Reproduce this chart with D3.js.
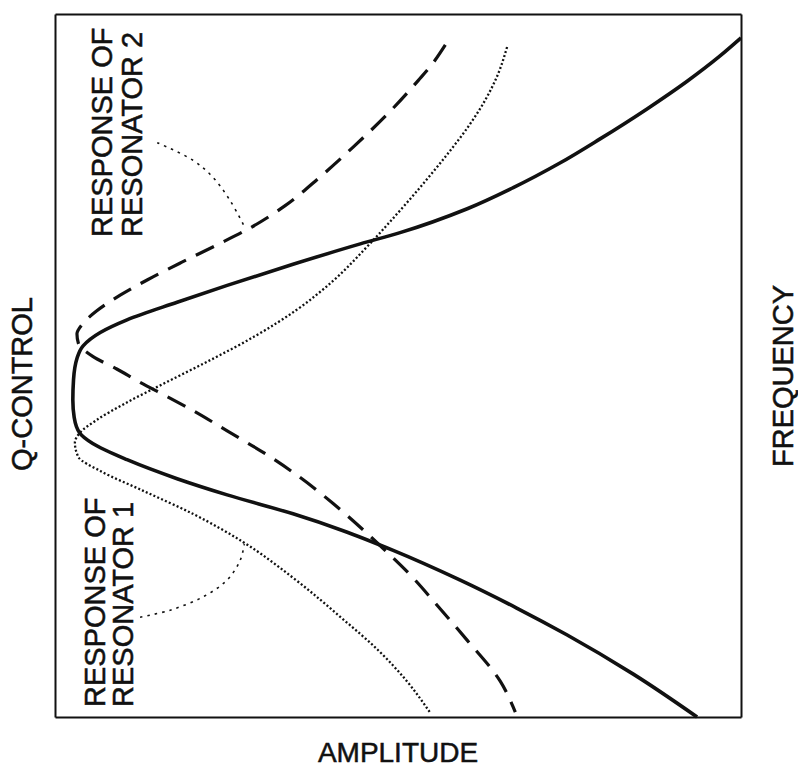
<!DOCTYPE html>
<html>
<head>
<meta charset="utf-8">
<script src="https://cdn.jsdelivr.net/npm/d3@7"></script>
<style>
  html, body { margin: 0; padding: 0; background: #fff; }
  text { font-family: "Liberation Sans", Arial, sans-serif; fill: #111; stroke: #111; stroke-width: 0.5; }
</style>
</head>
<body>
<div id="chart"></div>
<script>
// values: [amplitude, frequency], both in 0..100 units
const combined = [
  [100.0, 96.6], [96.9, 94.0], [92.1, 90.4], [86.3, 86.5], [79.4, 82.2],
  [73.6, 78.8], [66.8, 75.3], [60.1, 72.3], [50.3, 68.9], [44.5, 67.3],
  [34.7, 64.4], [25.1, 61.4], [17.8, 59.0], [10.5, 56.5], [6.6, 54.7],
  [4.1, 52.8], [3.2, 51.0], [2.7, 48.0], [2.6, 45.1], [2.8, 42.6],
  [3.6, 40.4], [5.5, 38.9], [10.5, 36.6], [17.8, 33.9], [25.1, 31.6],
  [34.7, 28.9], [42.0, 26.5], [49.3, 23.7], [59.0, 19.5], [67.3, 15.5],
  [74.6, 11.7], [84.3, 6.1], [93.6, 0.0]
];
const resonator2 = [
  [56.9, 95.6], [55.0, 92.9], [53.0, 90.6], [48.5, 85.8], [43.5, 81.1],
  [38.5, 76.7], [33.5, 72.7], [28.5, 69.6], [23.5, 67.1], [18.5, 64.7],
  [13.5, 62.2], [9.5, 60.0], [6.0, 57.7], [4.0, 55.9], [3.2, 54.5],
  [3.4, 53.2], [5.5, 51.3], [9.0, 49.5], [12.4, 47.6], [16.3, 45.6],
  [20.1, 43.6], [25.1, 40.7], [30.9, 37.3], [35.7, 34.1], [40.5, 30.4],
  [44.5, 27.0], [47.8, 24.0], [51.7, 20.3], [55.7, 15.9], [60.1, 10.9],
  [64.9, 5.1], [67.1, 0.7]
];
const resonator1 = [
  [65.9, 95.3], [64.6, 91.5], [62.8, 87.9], [60.4, 84.2], [57.4, 80.3],
  [53.8, 76.0], [49.8, 71.5], [45.4, 66.8], [40.6, 62.1], [35.2, 57.9],
  [29.2, 54.2], [22.7, 50.8], [16.2, 47.6], [10.2, 44.6], [6.0, 42.2],
  [3.6, 40.4], [2.9, 39.0], [3.4, 37.0], [6.6, 35.0], [12.8, 32.2],
  [20.1, 28.9], [27.4, 24.9], [34.7, 19.8], [42.0, 13.9], [47.0, 9.6],
  [51.2, 5.2], [54.7, 0.6]
];
const leader2 = [[14.9, 81.7], [20.1, 79.2], [23.0, 76.8], [25.5, 73.5], [27.7, 69.6]];
const leader1 = [[12.4, 14.2], [16.8, 15.2], [21.6, 17.1], [25.1, 19.5], [27.0, 22.3], [27.6, 24.6]];

const label2 = ["RESPONSE OF", "RESONATOR 2"];
const label1 = ["RESPONSE OF", "RESONATOR 1"];

const width = 798;
const height = 768;

const svg = d3.select("#chart").append("svg")
  .attr("width", width)
  .attr("height", height);

const x = d3.scaleLinear().domain([0, 100]).range([55, 741]);
const y = d3.scaleLinear().domain([0, 100]).range([717, 14]);

// frame: four axes without ticks
const frame = [
  [d3.axisBottom(x), `translate(0,${y(0)})`],
  [d3.axisTop(x), `translate(0,${y(100)})`],
  [d3.axisLeft(y), `translate(${x(0)},0)`],
  [d3.axisRight(y), `translate(${x(100)},0)`]
];
frame.forEach(([axis, tr]) => {
  const g = svg.append("g").attr("transform", tr)
    .call(axis.ticks(0).tickSize(0).tickSizeOuter(0));
  g.select(".domain").attr("stroke", "#111").attr("stroke-width", 2);
  g.selectAll("text").remove();
});

// amplitude is single-valued in frequency, so interpolate along y
const curve = d3.line()
  .x(d => x(d[0]))
  .y(d => y(d[1]))
  .curve(d3.curveMonotoneY);

const leaderLine = d3.line()
  .x(d => x(d[0]))
  .y(d => y(d[1]))
  .curve(d3.curveCatmullRom);

svg.append("path").datum(resonator1)
  .attr("d", curve).attr("fill", "none")
  .attr("stroke", "#111").attr("stroke-width", 2.3)
  .attr("stroke-dasharray", "2,2.2");

svg.append("path").datum(resonator2)
  .attr("d", curve).attr("fill", "none")
  .attr("stroke", "#111").attr("stroke-width", 3.2)
  .attr("stroke-dasharray", "20,11");

svg.append("path").datum(combined)
  .attr("d", curve).attr("fill", "none")
  .attr("stroke", "#111").attr("stroke-width", 3.6);

[leader1, leader2].forEach(pts => {
  svg.append("path").datum(pts)
    .attr("d", leaderLine).attr("fill", "none")
    .attr("stroke", "#111").attr("stroke-width", 1.6)
    .attr("stroke-dasharray", "2.5,5");
});

// labels
function vtext(str, tx, ty, anchor, size) {
  svg.append("text")
    .attr("transform", `translate(${tx},${ty}) rotate(-90)`)
    .attr("text-anchor", anchor)
    .attr("font-size", size)
    .text(str);
}
label2.forEach((s, i) => vtext(s, 112 + i * 30, 237, "start", 29));
label1.forEach((s, i) => vtext(s, 105 + i * 28, 707, "start", 29));
vtext("Q-CONTROL", 32, 384, "middle", 29);
vtext("FREQUENCY", 793, 376, "middle", 29);

svg.append("text")
  .attr("x", 398).attr("y", 762)
  .attr("text-anchor", "middle")
  .attr("font-size", 28)
  .text("AMPLITUDE");
</script>
</body>
</html>
